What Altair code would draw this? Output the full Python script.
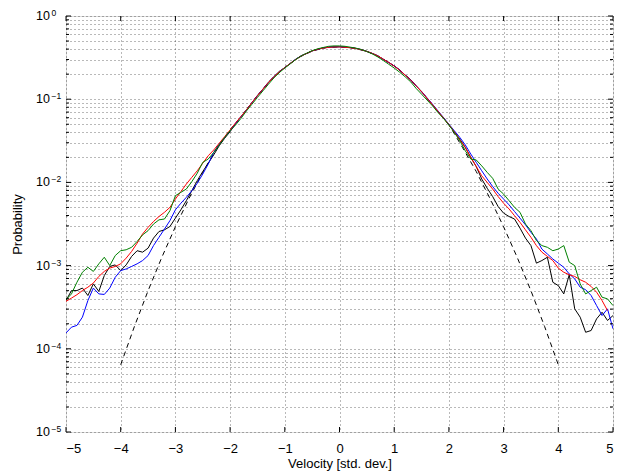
import altair as alt
import pandas as pd

# ---------------- data ----------------
velocity = [round(-5 + 0.1 * i, 1) for i in range(101)]

prob_black = [
    3.80e-4, 5.01e-4, 5.01e-4, 5.37e-4, 4.37e-4, 6.03e-4, 4.90e-4, 7.59e-4, 9.77e-4, 1.02e-3,
    8.71e-4, 1.02e-3, 1.29e-3, 1.51e-3, 1.45e-3, 1.62e-3, 2.14e-3, 2.57e-3, 2.69e-3, 2.95e-3,
    3.72e-3, 4.68e-3, 6.03e-3, 7.94e-3, 0.0105, 0.0135, 0.0170, 0.0214, 0.0275, 0.0339, 0.0407,
    0.0508, 0.0617, 0.0748, 0.0912, 0.111, 0.132, 0.160, 0.186, 0.216, 0.240,
    0.270, 0.302, 0.333, 0.355, 0.381, 0.398, 0.414, 0.422, 0.426, 0.427,
    0.420, 0.417, 0.409, 0.394, 0.374, 0.355, 0.333, 0.302, 0.277, 0.251,
    0.226, 0.195, 0.172, 0.145, 0.124, 0.102, 0.0860, 0.0708, 0.0595, 0.0490, 0.0405,
    0.0331, 0.0263, 0.0200, 0.0155, 0.0110, 8.51e-3, 6.76e-3, 5.13e-3, 4.27e-3, 3.89e-3,
    3.63e-3, 2.82e-3, 2.14e-3, 1.74e-3, 1.07e-3, 1.15e-3, 1.26e-3, 6.31e-4, 5.75e-4, 4.57e-4,
    7.76e-4, 3.02e-4, 2.40e-4, 1.58e-4, 1.66e-4, 2.29e-4, 2.75e-4, 2.19e-4, 2.51e-4,
]

prob_blue = [
    1.55e-4, 1.82e-4, 1.91e-4, 2.40e-4, 3.80e-4, 5.37e-4, 4.57e-4, 4.50e-4, 5.37e-4, 7.24e-4,
    8.71e-4, 9.12e-4, 9.77e-4, 1.05e-3, 1.15e-3, 1.32e-3, 1.74e-3, 2.19e-3, 2.75e-3, 3.47e-3,
    4.68e-3, 5.62e-3, 6.61e-3, 7.94e-3, 9.77e-3, 0.0126, 0.0166, 0.0229, 0.0288, 0.0347, 0.0417,
    0.0513, 0.0617, 0.0741, 0.0912, 0.110, 0.132, 0.158, 0.186, 0.214, 0.240,
    0.269, 0.302, 0.331, 0.355, 0.380, 0.398, 0.412, 0.422, 0.427, 0.427,
    0.422, 0.417, 0.407, 0.394, 0.376, 0.355, 0.331, 0.302, 0.275, 0.251,
    0.224, 0.195, 0.170, 0.145, 0.123, 0.104, 0.0871, 0.0724, 0.0603, 0.0501, 0.0417,
    0.0347, 0.0282, 0.0219, 0.0174, 0.0138, 0.0110, 8.91e-3, 7.41e-3, 6.31e-3, 5.37e-3,
    4.47e-3, 3.72e-3, 3.09e-3, 2.51e-3, 2.09e-3, 1.58e-3, 1.38e-3, 1.20e-3, 1.07e-3, 9.55e-4,
    7.94e-4, 6.92e-4, 5.50e-4, 5.13e-4, 4.37e-4, 3.31e-4, 2.51e-4, 3.02e-4, 1.74e-4,
]

prob_red = [
    3.72e-4, 4.07e-4, 4.47e-4, 5.01e-4, 5.50e-4, 6.17e-4, 7.41e-4, 8.51e-4, 9.33e-4, 9.77e-4,
    1.05e-3, 1.23e-3, 1.48e-3, 1.86e-3, 2.40e-3, 2.88e-3, 3.39e-3, 3.89e-3, 4.37e-3, 5.01e-3,
    6.31e-3, 7.76e-3, 9.55e-3, 0.0115, 0.0138, 0.0170, 0.0209, 0.0245, 0.0295, 0.0355, 0.0427,
    0.0520, 0.0620, 0.0745, 0.0912, 0.110, 0.132, 0.158, 0.186, 0.213, 0.240,
    0.269, 0.300, 0.330, 0.355, 0.380, 0.398, 0.411, 0.420, 0.425, 0.425,
    0.421, 0.415, 0.406, 0.393, 0.376, 0.355, 0.331, 0.303, 0.276, 0.250,
    0.223, 0.195, 0.170, 0.145, 0.123, 0.103, 0.0860, 0.0715, 0.0595, 0.0495, 0.0405,
    0.0324, 0.0263, 0.0200, 0.0155, 0.0120, 0.0100, 8.32e-3, 6.76e-3, 5.62e-3, 4.79e-3,
    3.98e-3, 3.31e-3, 2.69e-3, 2.19e-3, 1.74e-3, 1.45e-3, 1.29e-3, 1.15e-3, 9.33e-4, 8.32e-4,
    7.76e-4, 7.41e-4, 6.76e-4, 6.31e-4, 5.62e-4, 4.79e-4, 3.80e-4, 2.88e-4, None,
]

prob_green = [
    3.89e-4, 4.57e-4, 6.31e-4, 8.32e-4, 9.55e-4, 8.51e-4, 1.05e-3, 1.26e-3, 1.00e-3, 1.32e-3,
    1.51e-3, 1.55e-3, 1.66e-3, 1.95e-3, 2.34e-3, 2.63e-3, 3.16e-3, 3.55e-3, 3.63e-3, 4.57e-3,
    6.92e-3, 7.59e-3, 8.32e-3, 0.0102, 0.0129, 0.0174, 0.0191, 0.0229, 0.0282, 0.0347, 0.0417,
    0.0490, 0.0589, 0.0724, 0.0871, 0.105, 0.126, 0.151, 0.180, 0.209, 0.237,
    0.266, 0.300, 0.331, 0.357, 0.383, 0.403, 0.418, 0.432, 0.437, 0.437,
    0.432, 0.422, 0.410, 0.395, 0.375, 0.350, 0.322, 0.292, 0.263, 0.237,
    0.211, 0.186, 0.162, 0.135, 0.115, 0.0977, 0.0832, 0.0692, 0.0589, 0.0490, 0.0398,
    0.0316, 0.0240, 0.0191, 0.0186, 0.0158, 0.0132, 0.0112, 8.32e-3, 7.24e-3, 6.03e-3,
    5.01e-3, 4.37e-3, 3.16e-3, 2.63e-3, 2.00e-3, 1.74e-3, 1.66e-3, 1.51e-3, 1.58e-3, 1.74e-3,
    1.10e-3, 1.00e-3, 6.03e-4, 4.57e-4, 5.01e-4, 5.50e-4, 4.17e-4, 3.98e-4, 3.31e-4,
]

gauss_x = [-4.0, -3.75, -3.5, -3.25, -3.0, -2.75, -2.5, -2.25, -2.0, -1.75, -1.5, -1.25, -1.0,
           -0.75, -0.5, -0.25, 0.0, 0.25, 0.5, 0.75, 1.0, 1.25, 1.5, 1.75, 2.0, 2.25, 2.5,
           2.75, 3.0, 3.25, 3.5, 3.75, 4.0]
gauss_p = [6.43e-5, 1.85e-4, 4.98e-4, 1.25e-3, 2.93e-3, 6.43e-3, 0.0132, 0.0255, 0.0430,
           0.0680, 0.110, 0.172, 0.240, 0.316, 0.380, 0.417, 0.427, 0.412, 0.376, 0.317,
           0.251, 0.183, 0.123, 0.0785, 0.0495, 0.0262, 0.0135, 6.43e-3, 2.93e-3, 1.25e-3,
           4.98e-4, 1.85e-4, 6.43e-5]

x_ticks = [-5, -4, -3, -2, -1, 0, 1, 2, 3, 4, 5]
y_decades = [1e-5, 1e-4, 1e-3, 1e-2, 1e-1, 1.0]
y_exponents = ["\u22125", "\u22124", "\u22123", "\u22122", "\u22121", "0"]
y_minor_mult = [2, 3, 4, 5, 6, 7, 8, 9]

# ---------------- chart ----------------
W, H = 547, 416
FONT = "Liberation Sans"

xs = alt.Scale(domain=[-5, 5], nice=False, zero=False)
ys = alt.Scale(type="log", domain=[1e-5, 1], nice=False)

y_minor = [m * d for d in y_decades[:-1] for m in y_minor_mult]
y_all = sorted(y_decades + y_minor)

series = [("black", prob_black, "#000000"), ("blue", prob_blue, "#0000ff"),
          ("red", prob_red, "#ff0000"), ("green", prob_green, "#008000")]

gauss_df = pd.DataFrame({"v": gauss_x, "p": gauss_p})

grid_dash = [1, 3]
base = alt.Chart(gauss_df).mark_line(color="black", strokeWidth=1, strokeDash=[5, 4], clip=True).encode(
    x=alt.X("v:Q", scale=xs, axis=alt.Axis(
        values=x_ticks, title="Velocity [std. dev.]", grid=True, gridDash=grid_dash,
        gridColor="#000000", gridOpacity=0.55, gridWidth=1, ticks=False, domain=False,
        labelFont=FONT, labelFontSize=13, labelColor="black", labelPadding=10,
        titleFont=FONT, titleFontSize=13, titleFontWeight="normal", titleColor="black",
        titlePadding=2)),
    y=alt.Y("p:Q", scale=ys, axis=alt.Axis(
        values=y_all, title="Probability", grid=True, gridDash=grid_dash,
        gridColor="#000000", gridOpacity=0.55, gridWidth=1, ticks=False, domain=False,
        labels=False, titleFont=FONT, titleFontSize=13, titleFontWeight="normal",
        titleColor="black", titlePadding=42)),
)

layers = [base]
for name, vals, col in series:
    df = pd.DataFrame({"v": velocity, "p": vals}).dropna()
    layers.append(alt.Chart(df).mark_line(color=col, strokeWidth=1, clip=True).encode(
        x=alt.X("v:Q", scale=xs), y=alt.Y("p:Q", scale=ys)))

# tick marks (inward, on all four sides)
xt_df = pd.DataFrame({"v": x_ticks})
layers.append(alt.Chart(xt_df).mark_rule(color="black", strokeWidth=1).encode(
    x=alt.X("v:Q", scale=xs), y=alt.value(H), y2=alt.value(H - 5)))
layers.append(alt.Chart(xt_df).mark_rule(color="black", strokeWidth=1).encode(
    x=alt.X("v:Q", scale=xs), y=alt.value(0), y2=alt.value(5)))
yM_df = pd.DataFrame({"p": y_decades})
ym_df = pd.DataFrame({"p": y_minor})
for dfk, ln in ((yM_df, 5), (ym_df, 3)):
    layers.append(alt.Chart(dfk).mark_rule(color="black", strokeWidth=1).encode(
        y=alt.Y("p:Q", scale=ys), x=alt.value(0), x2=alt.value(ln)))
    layers.append(alt.Chart(dfk).mark_rule(color="black", strokeWidth=1).encode(
        y=alt.Y("p:Q", scale=ys), x=alt.value(W), x2=alt.value(W - ln)))

# y labels as 10 with superscript exponent
lab_df = pd.DataFrame({"p": y_decades, "e": y_exponents})
layers.append(alt.Chart(lab_df).mark_text(
    align="right", baseline="middle", font=FONT, fontSize=12.5, color="black").encode(
    y=alt.Y("p:Q", scale=ys), x=alt.value(-16), text=alt.value("10")))
layers.append(alt.Chart(lab_df).mark_text(
    align="left", baseline="alphabetic", font=FONT, fontSize=8.5, color="black", dy=0).encode(
    y=alt.Y("p:Q", scale=ys), x=alt.value(-14.5), text="e:N"))

chart = alt.layer(*layers).properties(
    width=W, height=H,
    autosize=alt.AutoSizeParams(type="none"),
    padding={"left": 58, "top": 8, "right": 6, "bottom": 44},
).configure_view(stroke="black", strokeWidth=1).configure(background="white")

chart.save("out.html", embed_options={"renderer": "svg", "actions": False})
